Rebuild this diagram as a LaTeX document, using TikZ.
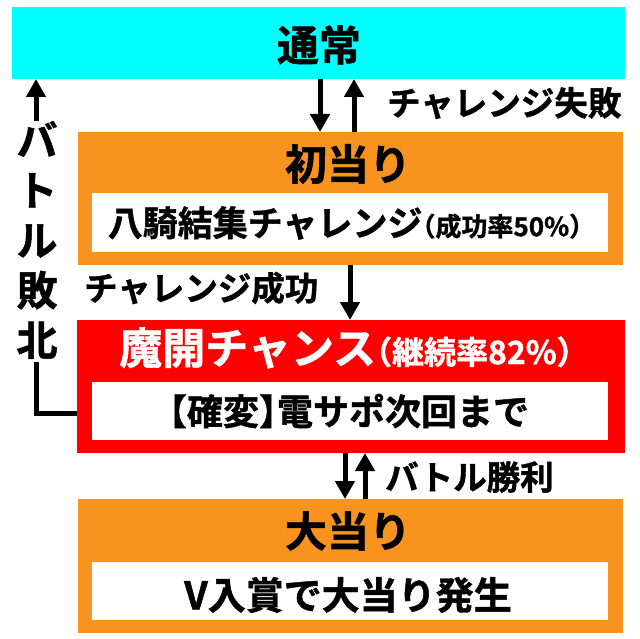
\documentclass[tikz,border=0pt]{standalone}
\usepackage{fontspec}
\setmainfont{Noto Sans CJK JP}[BoldFont={Noto Sans CJK JP Bold}, BoldFeatures={FakeBold=1.2, RawFeature=+halt}]
\usetikzlibrary{arrows.meta}
\definecolor{cyanbox}{HTML}{00FFFF}
\definecolor{orangebox}{HTML}{F7931E}
\definecolor{redbox}{HTML}{FF0000}
\newcommand{\fs}[1]{\fontsize{#1}{#1}\selectfont\bfseries}
\begin{document}
\begin{tikzpicture}[x=1pt,y=-1pt,
  panel/.style={anchor=north west, inner sep=0pt, outer sep=0pt, draw=none},
  ttl/.style={inner sep=0pt, font=\fs{42}},
  body/.style={inner sep=0pt, font=\fs{35}},
  lbl/.style={inner sep=0pt, anchor=west, font=\fs{33.5}},
  arr/.style={line width=5pt, -{Triangle[width=19pt,length=18pt]}},
  plain/.style={line width=5pt}
]
\useasboundingbox (0,0) rectangle (640,639);
% boxes
\node[panel, fill=cyanbox, minimum width=613pt, minimum height=72pt] (cy) at (12,7) {};
\node[panel, fill=orangebox, minimum width=545pt, minimum height=133pt] (or1) at (78,132) {};
\node[panel, fill=white, minimum width=516pt, minimum height=59pt] (w1) at (92,193) {};
\node[panel, fill=redbox, minimum width=548pt, minimum height=133pt] (rd) at (77,320) {};
\node[panel, fill=white, minimum width=516pt, minimum height=58pt] (w2) at (92,382) {};
\node[panel, fill=orangebox, minimum width=545pt, minimum height=134pt] (or2) at (78,499) {};
\node[panel, fill=white, minimum width=516pt, minimum height=58pt] (w3) at (92,562) {};
% texts
\node[ttl] (t1) at (319,45) {通常};
\node[ttl] (t2) at (348,164) {初当り};
\node[body] (t3) at (345,223) {八騎結集チャレンジ{\fs{26}（成功率50\%）}};
\node[ttl, text=white, font=\fs{43}] (t4) at (346,348) {魔開チャンス{\fs{32}（継続率82\%）}};
\node[body, font=\fs{36}] (t5) at (349,411) {【確変】電サポ次回まで};
\node[ttl] (t6) at (348,531) {大当り};
\node[body, font=\fs{38}] (t7) at (348,595) {V入賞で大当り発生};
% labels
\node[lbl] (l1) at (387,103) {チャレンジ失敗};
\node[lbl] (l2) at (84,288) {チャレンジ成功};
\node[lbl] (l3) at (385,477) {バトル勝利};
\node[inner sep=0pt, align=center, font=\fontsize{41}{50}\selectfont\bfseries] (l4) at (37,240)
  {バ\\ト\\ル\\敗\\北};
% arrows
\coordinate (xa) at (320,0);
\coordinate (xb) at (354,0);
\coordinate (xc) at (350,0);
\coordinate (xd) at (345,0);
\coordinate (xe) at (365,0);
\coordinate (xf) at (36,0);
\coordinate (ytop) at (0,121);
\coordinate (ybot) at (0,362);
\coordinate (ymid) at (0,413);
\draw[arr] (cy.south -| xa) -- (or1.north -| xa);
\draw[arr] (or1.north -| xb) -- (cy.south -| xb);
\draw[arr] (or1.south -| xc) -- (rd.north -| xc);
\draw[arr] (rd.south -| xd) -- (or2.north -| xd);
\draw[arr] (or2.north -| xe) -- (rd.south -| xe);
\draw[arr] (xf |- ytop) -- (xf |- cy.south);
\draw[plain] (rd.west |- ymid) -- (xf |- ymid) -- (xf |- ybot);
\end{tikzpicture}
\end{document}
